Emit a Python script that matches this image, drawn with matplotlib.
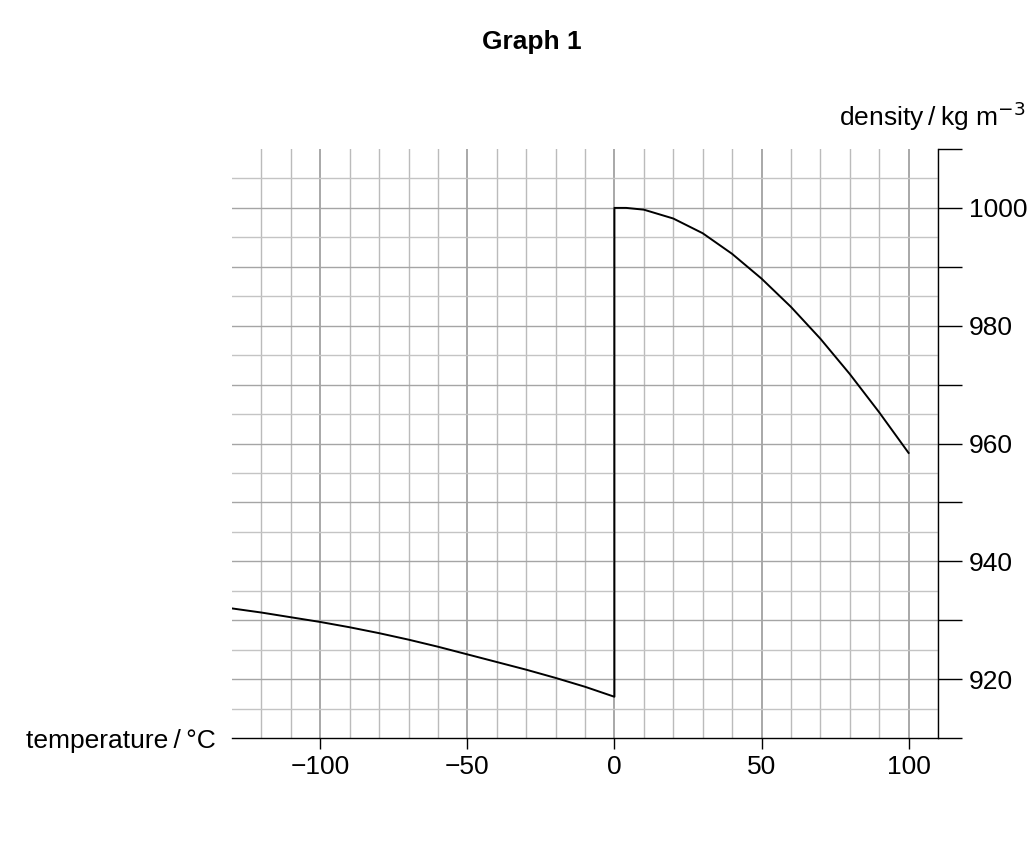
import matplotlib
matplotlib.use("Agg")
import matplotlib.pyplot as plt
import numpy as np

plt.rcParams['font.family'] = ['Liberation Sans', 'DejaVu Sans']

ice_t = [-130, -120, -110, -100, -90, -80, -70, -60, -50, -40, -30, -20, -10, 0]
ice_d = [932.0, 931.3, 930.5, 929.7, 928.8, 927.8, 926.7, 925.5, 924.2, 922.9, 921.6, 920.2, 918.7, 917.0]
water_t = [0, 4, 10, 20, 30, 40, 50, 60, 70, 80, 90, 100]
water_d = [1000.0, 1000.0, 999.7, 998.2, 995.7, 992.2, 988.0, 983.2, 977.8, 971.8, 965.3, 958.4]
xticks = [-100, -50, 0, 50, 100]
yticks = [920, 940, 960, 980, 1000]

W, H = 1036, 841
fig = plt.figure(figsize=(W/100, H/100), dpi=100)
ax = fig.add_axes([232/W, 1-738/H, (938-232)/W, (738-149)/H])
ax.set_xlim(-130, 110)
ax.set_ylim(910, 1010)

for x in np.arange(-120, 111, 10):
    c = '#999999' if x % 50 == 0 else '#bbbbbb'
    ax.axvline(x, color=c, lw=1.2 if x % 50 == 0 else 1.0, zorder=0)
for y in np.arange(915, 1010, 5):
    c = '#a5a5a5' if y % 10 == 0 else '#c4c4c4'
    ax.axhline(y, color=c, lw=1.0, zorder=0)

ax.plot(ice_t + [0] + water_t, ice_d + [1000] + water_d, color='black', lw=1.4)

for s in ['top', 'left']:
    ax.spines[s].set_visible(False)
ax.spines['right'].set_linewidth(1)
ax.spines['bottom'].set_linewidth(1)
ax.yaxis.tick_right()
ax.set_yticks(np.arange(910, 1011, 10))
ax.set_yticklabels([str(v) if v in yticks else '' for v in range(910, 1011, 10)])
ax.set_xticks(xticks)
ax.set_xticklabels([f'\u2212{abs(v)}' if v < 0 else str(v) for v in xticks])
ax.tick_params(axis='y', length=17, width=1, labelsize=19, pad=5)
ax.tick_params(axis='x', length=8, width=1, labelsize=19, pad=4)

fig.text(1026/W, 1-116/H, 'density\u2009/\u2009kg m$^{-3}$', ha='right', va='center', fontsize=19)
fig.text(216/W, 1-741/H, 'temperature\u2009/\u2009°C', ha='right', va='center', fontsize=19)
fig.text(532/W, 1-42/H, 'Graph 1', ha='center', va='center', fontsize=19, fontweight='bold')

fig.savefig('out.png', dpi=100)
